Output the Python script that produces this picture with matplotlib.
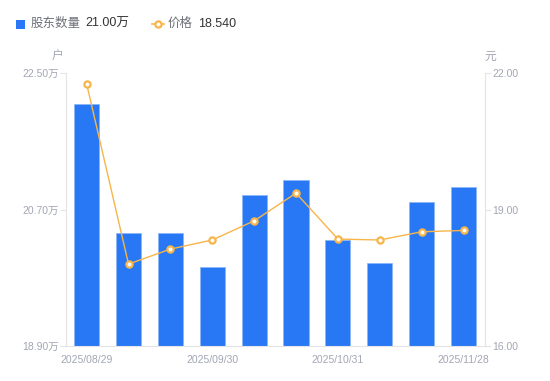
import matplotlib
matplotlib.use("Agg")
import matplotlib.pyplot as plt
from matplotlib.lines import Line2D
from matplotlib.patches import Rectangle

plt.rcParams['font.family'] = ['Liberation Sans', 'Noto Sans CJK SC', 'DejaVu Sans']

dates = ["2025/08/29", "2025/09/10", "2025/09/19", "2025/09/30", "2025/10/10",
         "2025/10/20", "2025/10/31", "2025/11/10", "2025/11/20", "2025/11/28"]
holders = [22.09, 20.39, 20.39, 19.94, 20.89, 21.09, 20.30, 19.99, 20.80, 21.00]  # 万户
price = [21.76, 17.80, 18.13, 18.33, 18.75, 19.36, 18.35, 18.33, 18.51, 18.54]
left_ticks = [18.90, 20.70, 22.50]
right_ticks = [16.00, 19.00, 22.00]
shown_idx = [0, 3, 6, 9]

W, H = 550, 381
fig = plt.figure(figsize=(W / 100, H / 100), dpi=100)
ax = fig.add_axes([65.7 / W, 1 - 346 / H, (484.5 - 65.7) / W, (346 - 73) / H])
ax2 = ax.twinx()

bar_c = "#2878F5"
line_c = "#F8B54A"
tick_c = "#A3A6B4"
axis_c = "#E3E4E8"

x = list(range(len(dates)))
ax.bar(x, holders, width=0.6, color=bar_c, edgecolor="#8DB6F8", linewidth=0.6, zorder=2)
ax.set_ylim(left_ticks[0], left_ticks[-1])
ax.set_xlim(-0.5, len(dates) - 0.5)
ax.set_yticks(left_ticks)
ax.set_yticklabels([f"{v:.2f}万" for v in left_ticks])
ax.set_xticks(shown_idx)
ax.set_xticklabels([dates[i] for i in shown_idx])

ax2.plot(x, price, color=line_c, linewidth=1.0, marker="o", markersize=4.5,
         markerfacecolor="white", markeredgecolor=line_c, markeredgewidth=1.6, zorder=3)
ax2.set_ylim(right_ticks[0], right_ticks[-1])
ax2.set_yticks(right_ticks)
ax2.set_yticklabels([f"{v:.2f}" for v in right_ticks])

for a in (ax, ax2):
    for s in a.spines.values():
        s.set_visible(False)
ax.spines['left'].set_visible(True)
ax.spines['left'].set_color(axis_c)
ax.spines['bottom'].set_visible(True)
ax.spines['bottom'].set_color(axis_c)
ax2.spines['right'].set_visible(True)
ax2.spines['right'].set_color(axis_c)

ax.tick_params(axis='y', colors=axis_c, labelcolor=tick_c, labelsize=7.5, length=4, pad=1)
ax.tick_params(axis='x', length=0, labelcolor=tick_c, labelsize=7.5, pad=6.5)
ax2.tick_params(axis='y', colors=axis_c, labelcolor=tick_c, labelsize=7.5, length=4, pad=1.5)

fig.text(58 / W, 1 - 57 / H, "户", color=tick_c, fontsize=8.5, ha='center', va='center')
fig.text(490 / W, 1 - 57 / H, "元", color=tick_c, fontsize=8.5, ha='center', va='center')

# legend
ly = 1 - 24 / H
fig.patches.append(Rectangle((16 / W, 1 - 28.5 / H), 9 / W, 9 / H, transform=fig.transFigure,
                             facecolor=bar_c, edgecolor='none'))
fig.text(31 / W, ly, "股东数量", color="#6E7079", fontsize=9, va='center', ha='left')
fig.text(85 / W, ly, f"{holders[-1]:.2f}万", color="#333333", fontsize=9, va='center', ha='left')
fig.lines.append(Line2D([152 / W, 164 / W], [ly, ly], transform=fig.transFigure, color=line_c, lw=1.2))
fig.lines.append(Line2D([158 / W], [ly], transform=fig.transFigure, marker='o', markersize=4.5,
                        markerfacecolor='white', markeredgecolor=line_c, markeredgewidth=1.6))
fig.text(168 / W, ly, "价格", color="#6E7079", fontsize=9, va='center', ha='left')
fig.text(198 / W, ly, f"{price[-1]:.3f}", color="#333333", fontsize=9, va='center', ha='left')

fig.savefig("out.png", dpi=100)
